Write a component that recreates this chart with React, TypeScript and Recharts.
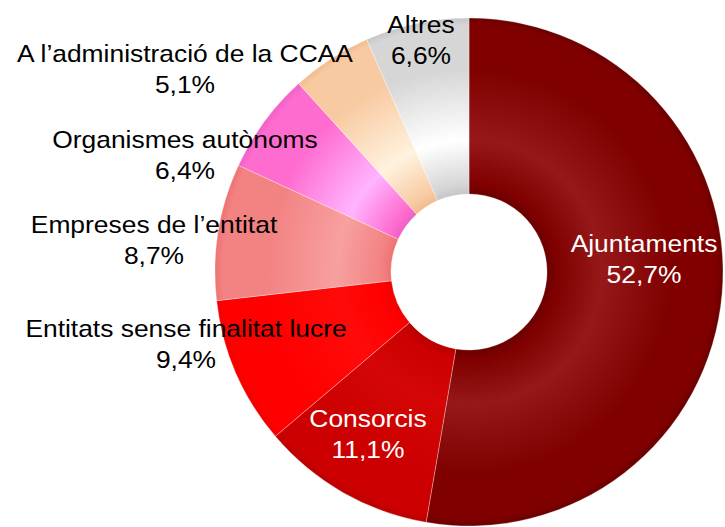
import React from 'react';
import { PieChart, Pie, Cell } from 'recharts';

const categories = [
  'Ajuntaments',
  'Consorcis',
  'Entitats sense finalitat lucre',
  "Empreses de l\u2019entitat",
  'Organismes aut\u00f2noms',
  "A l\u2019administraci\u00f3 de la CCAA",
  'Altres',
];
const shares = [52.7, 11.1, 9.4, 8.7, 6.4, 5.1, 6.6];
const shareLabels = ['52,7%', '11,1%', '9,4%', '8,7%', '6,4%', '5,1%', '6,6%'];

// edge, highlight, base colours for each slice
const sliceColors = [
  ['#6a0000', '#961818', '#800000'],
  ['#b80000', '#d40606', '#cc0000'],
  ['#f20000', '#ff0a0a', '#ff0000'],
  ['#ee7272', '#f8a0a0', '#f38282'],
  ['#f060c4', '#ffb4ff', '#ff6ccf'],
  ['#f2bb90', '#fff2de', '#f8caa2'],
  ['#c6c6c6', '#ffffff', '#d6d6d6'],
];
const labelColors = ['#fff', '#fff', '#000', '#000', '#000', '#000', '#000'];
// label anchor offsets from the pie centre (first-line baseline)
const labelOffsets = [
  [175, -20],
  [-101, 155],
  [-283, 65],
  [-315, -39],
  [-284, -124],
  [-284, -210],
  [-48, -239],
];

const data = categories.map((name, i) => ({ name, value: shares[i], label: shareLabels[i] }));

const CX = 469;
const CY = 272;
const OUTER = 254;
const INNER = 78;

const renderLabel = (props: any) => {
  const { index, cx, cy } = props;
  const [dx, dy] = labelOffsets[index];
  const x = cx + dx;
  const y = cy + dy;
  const entry = data[index];
  return (
    <g key={`lbl-${index}`}>
      <text
        transform={`translate(${x},${y}) scale(1.1,1)`}
        textAnchor="middle"
        fontSize={24}
        fontFamily="'Liberation Sans', Arial, sans-serif"
        fill={labelColors[index]}
      >
        <tspan x={0} y={0}>{entry.name}</tspan>
        <tspan x={0} y={31}>{entry.label}</tspan>
      </text>
    </g>
  );
};

export default function App() {
  const r0 = INNER / OUTER;
  return (
    <div style={{ position: 'absolute', left: 0, top: 0, width: 725, height: 527, background: '#fff' }}>
      <PieChart width={725} height={527} margin={{ top: 0, right: 0, bottom: 0, left: 0 }}>
        <defs>
          {sliceColors.map((c, i) => (
            <radialGradient
              key={`g-${i}`}
              id={`grad-${i}`}
              gradientUnits="userSpaceOnUse"
              cx={CX}
              cy={CY}
              r={OUTER}
            >
              <stop offset={r0} stopColor={c[0]} />
              <stop offset={r0 + 0.04} stopColor={c[2]} />
              <stop offset={0.52} stopColor={c[1]} />
              <stop offset={0.8} stopColor={c[2]} />
              <stop offset={0.97} stopColor={c[2]} />
              <stop offset={1} stopColor={c[0]} />
            </radialGradient>
          ))}
        </defs>
        <Pie
          data={data}
          dataKey="value"
          nameKey="name"
          cx={CX}
          cy={CY}
          innerRadius={INNER}
          outerRadius={OUTER}
          startAngle={90}
          endAngle={-270}
          stroke="rgba(255,255,255,0.3)"
          strokeWidth={1}
          label={renderLabel}
          labelLine={false}
          isAnimationActive={false}
        >
          {data.map((entry, i) => (
            <Cell key={`cell-${entry.name}`} fill={`url(#grad-${i})`} />
          ))}
        </Pie>
      </PieChart>
    </div>
  );
}
